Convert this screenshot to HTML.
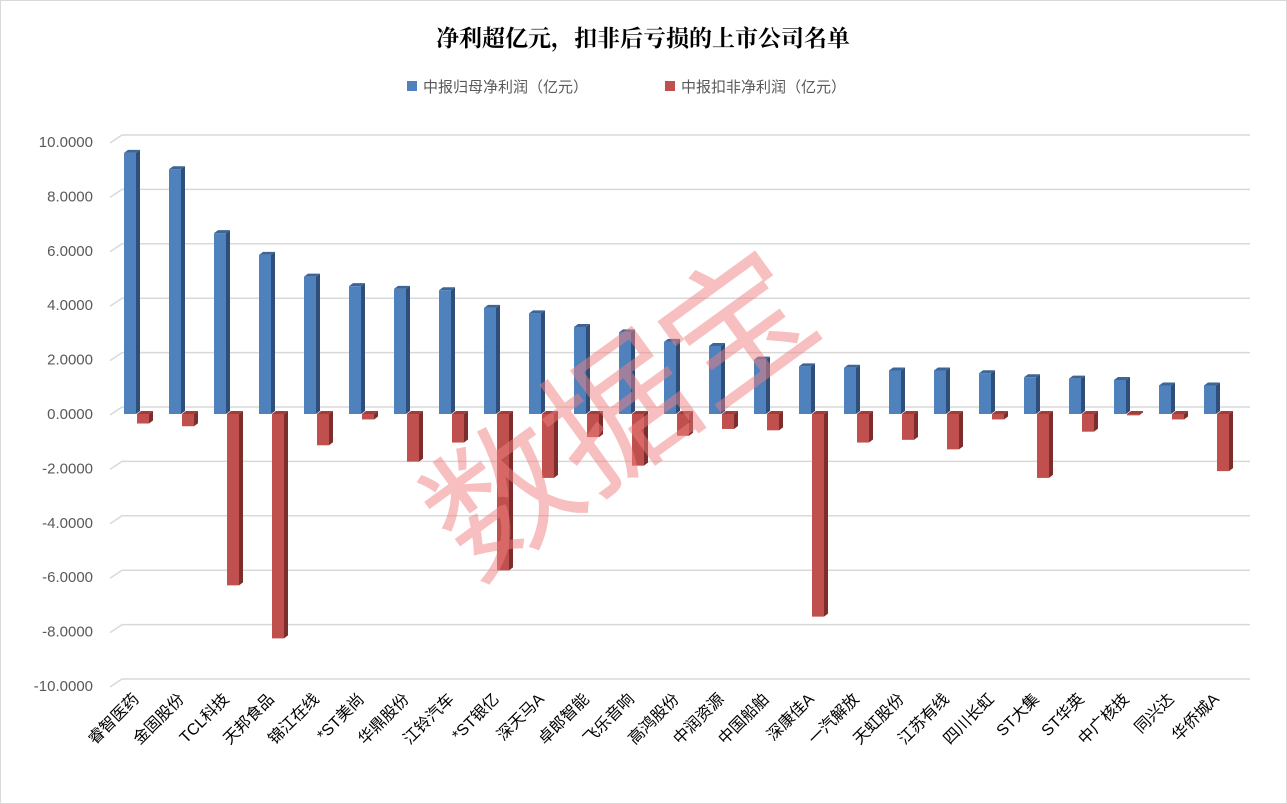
<!DOCTYPE html>
<html><head><meta charset="utf-8"><style>body{margin:0;background:#fff}svg{display:block}</style></head><body>
<svg width="1287" height="804" xmlns="http://www.w3.org/2000/svg" font-family="Liberation Sans, Noto Sans CJK SC, sans-serif">
<rect x="0.5" y="0.5" width="1286" height="803" fill="#fff" stroke="#d9d9d9"/>
<text x="643" y="46" text-anchor="middle" font-size="23" font-weight="bold" font-family="Noto Serif CJK SC, serif" fill="#000">净利超亿元，扣非后亏损的上市公司名单</text>
<rect x="407" y="81" width="10" height="10" fill="#4f81bd"/>
<text x="423" y="92" font-size="15" fill="#595959">中报归母净利润（亿元）</text>
<rect x="665" y="81" width="10" height="10" fill="#c0504d"/>
<text x="681" y="92" font-size="15" fill="#595959">中报扣非净利润（亿元）</text>
<g id="grid" stroke="#d9d9d9" stroke-width="1.5" fill="none"></g>
<g id="ylab" font-size="15" fill="#595959" text-anchor="end"></g>
<g id="bars"></g>
<g id="xlab" font-size="16" fill="#000" text-anchor="end"></g>
<text x="0" y="0" font-size="145" font-weight="normal" fill="#f08080" fill-opacity="0.5" font-family="Noto Sans CJK SC, sans-serif" text-anchor="middle" transform="translate(650,455) rotate(-36)">数据宝</text>
</svg>
<script>
var ns="http://www.w3.org/2000/svg";
function el(p,t,a,txt){var e=document.createElementNS(ns,t);for(var k in a)e.setAttribute(k,a[k]);if(txt)e.textContent=txt;document.getElementById(p).appendChild(e);}
var Y=function(v){return 414-v*27.2;};
for(var v=10;v>=-10;v-=2){var y=Y(v);el('grid','path',{d:'M110 '+(y+1)+' L122 '+(y-7)+' L1250 '+(y-7)});el('ylab','text',{x:93,y:y+5},v.toFixed(4));}
var names=["睿智医药","金固股份","TCL科技","天邦食品","锦江在线","*ST美尚","华鼎股份","江铃汽车","*ST银亿","深天马A","卓郎智能","飞乐音响","高鸿股份","中润资源","中国船舶","深康佳A","一汽解放","天虹股份","江苏有线","四川长虹","ST大集","ST华英","中广核技","同兴达","华侨城A"];
var b=[9.6,9.0,6.65,5.85,5.05,4.7,4.6,4.55,3.9,3.7,3.2,3.0,2.65,2.5,2.0,1.75,1.7,1.6,1.6,1.5,1.35,1.3,1.25,1.05,1.05];
var r=[-0.35,-0.45,-6.3,-8.25,-1.15,-0.2,-1.75,-1.05,-5.75,-2.35,-0.85,-1.9,-0.8,-0.55,-0.6,-7.45,-1.05,-0.95,-1.3,-0.2,-2.35,-0.65,-0.05,-0.2,-2.1];
function bar(x,v,c,cs,ct){var y0=Y(0),y1=Y(v);var top=Math.min(y0,y1),bot=Math.max(y0,y1);
el('bars','polygon',{points:(x+12)+','+top+' '+(x+16)+','+(top-3)+' '+(x+16)+','+(bot-3)+' '+(x+12)+','+bot,fill:cs});
el('bars','polygon',{points:x+','+top+' '+(x+4)+','+(top-3)+' '+(x+16)+','+(top-3)+' '+(x+12)+','+top,fill:ct});
el('bars','rect',{x:x,y:top,width:12,height:Math.max(bot-top,1),fill:c});}
for(var i=0;i<25;i++){var cx=124+45*i;
bar(cx,b[i],'#4f81bd','#2f4f7a','#3d6597');
bar(cx+13,r[i],'#c0504d','#7d2e2c','#a03c39');
el('xlab','text',{x:cx+16,y:700,transform:'rotate(-45 '+(cx+16)+' 700)'},names[i]);}
</script>
</body></html>
